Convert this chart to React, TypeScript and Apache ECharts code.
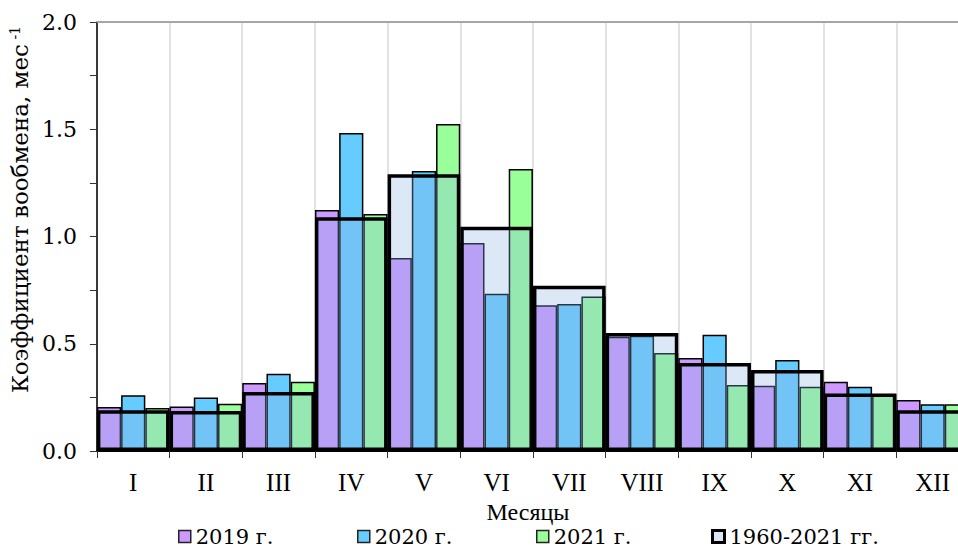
import React, { useEffect, useRef } from "react";
import * as echarts from "echarts";

const months = ["I", "II", "III", "IV", "V", "VI", "VII", "VIII", "IX", "X", "XI", "XII"];
const y2019 = [0.205, 0.207, 0.317, 1.124, 0.9, 0.97, 0.68, 0.533, 0.433, 0.304, 0.323, 0.238];
const y2020 = [0.26, 0.25, 0.36, 1.483, 1.305, 0.733, 0.685, 0.537, 0.542, 0.424, 0.3, 0.218];
const y2021 = [0.2, 0.22, 0.323, 1.105, 1.524, 1.315, 0.72, 0.457, 0.308, 0.3, 0.266, 0.218];
const yMean = [0.19, 0.187, 0.275, 1.09, 1.29, 1.045, 0.77, 0.55, 0.41, 0.378, 0.268, 0.19];
const seriesNames = ["2019 г.", "2020 г.", "2021 г.", "1960-2021 гг."];
const colors = ["#cc99ff", "#66ccff", "#99ff99"];

const FONT = "Liberation Serif";
const FONT2 = "DejaVu Serif";

export default function App() {
  const ref = useRef<HTMLDivElement>(null);
  useEffect(() => {
    if (!ref.current) return;
    const chart = echarts.init(ref.current, undefined, { renderer: "svg" });
    const barSeries = [y2019, y2020, y2021].map((d, i) => ({
      name: seriesNames[i],
      type: "bar",
      xAxisIndex: 0,
      data: d,
      barWidth: "33.333%",
      barGap: "0%",
      z: 2,
      itemStyle: { color: colors[i], borderColor: "#000", borderWidth: 1.5 },
    }));
    const legendLefts = [173, 352, 531, 706];
    const legendItemStyles = [
      { color: colors[0], borderColor: "#222", borderWidth: 1.5 },
      { color: colors[1], borderColor: "#222", borderWidth: 1.5 },
      { color: colors[2], borderColor: "#222", borderWidth: 1.5 },
      { color: "#dae5f5", borderColor: "#000", borderWidth: 3 },
    ];
    const serif = (size: number, fam: string = FONT) => ({ fontFamily: fam, fontSize: size, color: "#000" });
    chart.setOption({
      animation: false,
      textStyle: { fontFamily: FONT },
      grid: { left: 96, right: 0, top: 22, bottom: 97, containLabel: false },
      legend: seriesNames.map((n, i) => ({
        left: legendLefts[i],
        top: 521,
        icon: "rect",
        itemWidth: 12,
        itemHeight: 12,
        selectedMode: false,
        formatter: (name: string) => `{s|${name}}`,
        textStyle: {
          ...serif(21, FONT2),
          rich: { s: { ...serif(21, FONT2), lineHeight: 22 } },
        },
        data: [{ name: n, itemStyle: legendItemStyles[i] }],
      })),
      xAxis: [
        {
          type: "category",
          data: months,
          position: "bottom",
          axisLine: { show: true, lineStyle: { color: "#000", width: 2 } },
          axisTick: { show: true, interval: 0, length: 7, lineStyle: { color: "#333", width: 1 } },
          axisLabel: {
            interval: 0,
            margin: 19,
            ...serif(25),
            formatter: (v: string) => `{s|${v}}`,
            rich: { s: serif(25) },
          },
          splitLine: { show: true, interval: 0, lineStyle: { color: "#d9d9d9", width: 1.5 } },
          name: "{s|Месяцы}",
          nameLocation: "middle",
          nameGap: 40,
          nameTextStyle: { ...serif(24), padding: [0, 10, 0, 0], rich: { s: serif(24) } },
        },
        {
          type: "category",
          data: months,
          position: "top",
          axisLine: { show: true, lineStyle: { color: "#a6a6a6", width: 2 } },
          axisTick: { show: false },
          axisLabel: { show: false },
          splitLine: { show: false },
        },
      ],
      yAxis: {
        type: "value",
        min: 0,
        max: 2,
        interval: 0.25,
        axisLine: { show: true, lineStyle: { color: "#000", width: 1.5 } },
        axisTick: { show: true, length: 7, lineStyle: { color: "#333", width: 1 } },
        axisLabel: {
          margin: 20,
          ...serif(22, FONT2),
          rich: { s: serif(22, FONT2) },
          formatter: (v: number) =>
            Math.abs(v * 2 - Math.round(v * 2)) < 1e-9 ? `{s|${v.toFixed(1)}}` : "",
        },
        splitLine: { show: false },
        name: "{a|Коэффициент вообмена, мес}{b| -1}",
        nameLocation: "middle",
        nameGap: 64,
        nameTextStyle: {
          ...serif(23, FONT2),
          padding: [0, 0, 0, 54],
          rich: {
            a: serif(23, FONT2),
            b: { ...serif(14, FONT2), verticalAlign: "top", lineHeight: 23 },
          },
        },
      },
      series: [
        ...barSeries,
        {
          name: seriesNames[3],
          type: "bar",
          xAxisIndex: 1,
          data: yMean,
          barWidth: "100%",
          z: 3,
          itemStyle: { color: "rgba(142,180,227,0.3)", borderColor: "#000", borderWidth: 3.5 },
        },
      ],
    });
    return () => chart.dispose();
  }, []);
  return (
    <div style={{ position: "fixed", left: 0, top: 0, width: 958, height: 548, overflow: "hidden", background: "#fff" }}>
      <div ref={ref} style={{ width: 969, height: 548 }} />
    </div>
  );
}
